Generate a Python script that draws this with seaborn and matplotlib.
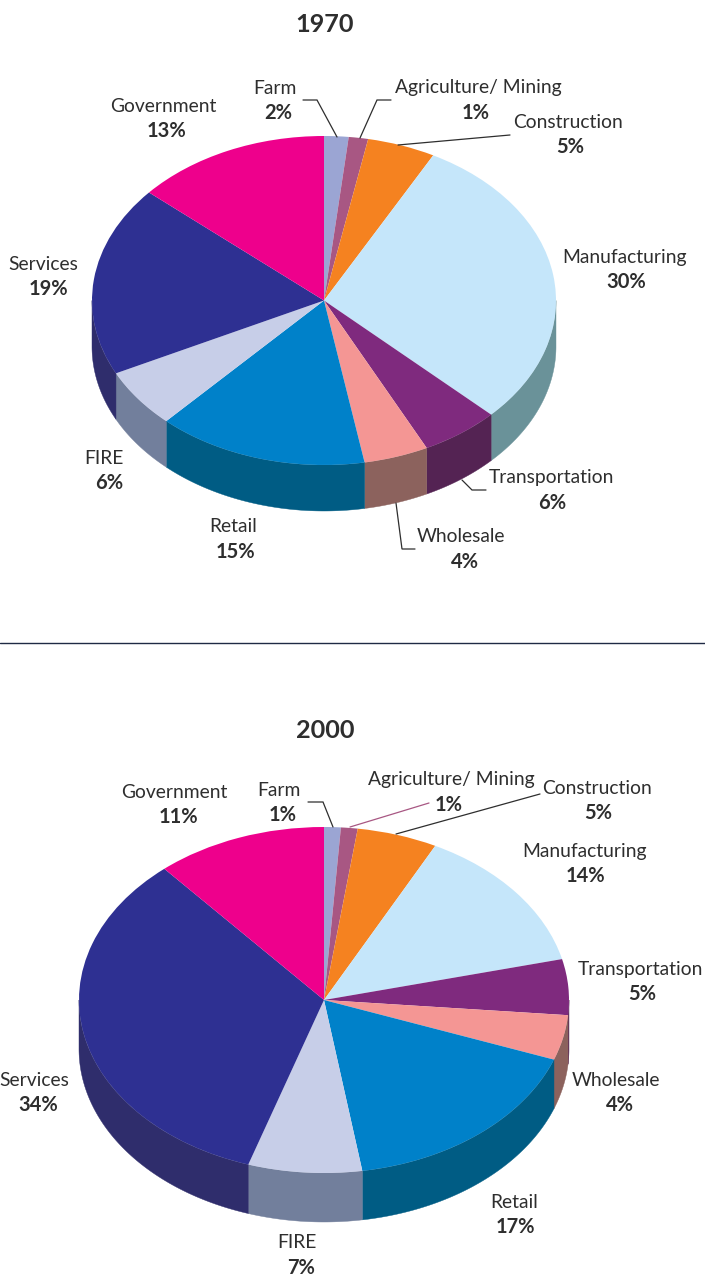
import numpy as np
import matplotlib
matplotlib.use("Agg")
import matplotlib.pyplot as plt
import seaborn as sns

sns.set_theme(style="white")
plt.rcParams['font.family'] = ['Lato', 'DejaVu Sans']

categories = ["Farm", "Agriculture/ Mining", "Construction", "Manufacturing", "Transportation",
              "Wholesale", "Retail", "FIRE", "Services", "Government"]
shares_1970 = [1.7, 1.35, 4.75, 29.4, 5.5, 4.5, 14.7, 5.8, 18.7, 13.6]
shares_2000 = [1.1, 1.1, 5.3, 13.7, 5.2, 4.2, 16.9, 7.5, 33.7, 11.3]
labels_1970 = ["2%", "1%", "5%", "30%", "6%", "4%", "15%", "6%", "19%", "13%"]
labels_2000 = ["1%", "1%", "5%", "14%", "5%", "4%", "17%", "7%", "34%", "11%"]
top_colors = ["#9BA5D3", "#A85783", "#F58220", "#C5E6FA", "#7F2A7E",
              "#F49694", "#0081C9", "#C7CEE8", "#2E3092", "#EE008C"]
wall_colors = ["#6A7290", "#74405C", "#A85A18", "#6A9299", "#542353",
               "#8C625D", "#005C84", "#727F9C", "#2F2D6C", "#8A0055"]
palette = sns.color_palette(top_colors)
wall_palette = sns.color_palette(wall_colors)

W, H = 705, 1276
TEXT = "#2E2E2E"
FS = 13.9

fig = plt.figure(figsize=(W / 100, H / 100), dpi=100, facecolor="white")


def draw_pie(shares, cx, cy, rx, ry, depth):
    ax = fig.add_axes([(cx - rx) / W, 1 - (cy + ry) / H, 2 * rx / W, 2 * ry / H])
    ax.pie(shares, colors=palette, startangle=90, counterclock=False, radius=1, normalize=True,
           wedgeprops={"clip_on": False, "linewidth": 0, "zorder": 3})
    ax.set_xlim(-1, 1)
    ax.set_ylim(-1, 1)
    ax.set_aspect("auto")
    edges = np.cumsum([0] + list(shares)) / sum(shares) * 2 * np.pi
    d = depth / ry
    for i in range(len(shares)):
        a, b = max(edges[i], np.pi / 2), min(edges[i + 1], 1.5 * np.pi)
        if b <= a:
            continue
        t = np.linspace(a, b, 80)
        x, y = np.sin(t), np.cos(t)
        ax.fill(np.r_[x, x[::-1]], np.r_[y, y[::-1] - d], color=wall_palette[i],
                lw=0.3, clip_on=False, zorder=2)
    return ax


draw_pie(shares_1970, 324, 300.5, 232, 164.5, 46)
draw_pie(shares_2000, 324, 1000, 245, 173, 49)

ov = fig.add_axes([0, 0, 1, 1], facecolor="none")
ov.set_xlim(0, W)
ov.set_ylim(H, 0)
ov.axis("off")

name_pos_1970 = [(275, 88), (478, 88), (568, 122), (625, 257), (551, 478),
                 (461, 537), (233, 527), (104, 458), (43, 264), (163, 106)]
name_pos_2000 = [(279, 790), (451, 780), (597, 788), (584, 851), (640, 969),
                 (616, 1080), (514, 1202), (297, 1243), (34, 1080), (174, 792)]
pct_x_1970 = [278, 476, 570, 626, 552, 465, 235, 109, 48, 167]
pct_x_2000 = [283, 449, 598, 585, 642, 620, 515, 301, 38, 178]

for pcts, pos, pxs in [(labels_1970, name_pos_1970, pct_x_1970), (labels_2000, name_pos_2000, pct_x_2000)]:
    for n, p, (x, y), px in zip(categories, pcts, pos, pxs):
        ov.text(x, y, n, ha="center", va="center", fontsize=FS, color=TEXT, clip_on=False)
        ov.text(px, y + 25, p, ha="center", va="center", fontsize=FS + 0.6, fontweight="bold",
                color=TEXT, clip_on=False)

ov.text(325, 25, "1970", ha="center", va="center", fontsize=18.2, fontweight="bold", color=TEXT)
ov.text(325, 730, "2000", ha="center", va="center", fontsize=18.2, fontweight="bold", color=TEXT)
ov.plot([0, 705], [643, 643], color="#1F2A44", lw=1)

leaders = [
    ([303, 317, 337], [100, 100, 137], TEXT),
    ([391, 377, 360], [100, 100, 138], TEXT),
    ([398, 510], [145, 135], TEXT),
    ([462, 472, 486], [480, 490, 490], TEXT),
    ([396, 402, 415], [503, 549, 549], TEXT),
    ([308, 323, 333], [802, 802, 827], TEXT),
    ([350, 429], [827, 803], "#A85783"),
    ([396, 540], [834, 794], TEXT),
]
for xs, ys, c in leaders:
    ov.plot(xs, ys, color=c, lw=0.9, solid_joinstyle="miter")

fig.savefig("out.png", dpi=100, facecolor="white")
